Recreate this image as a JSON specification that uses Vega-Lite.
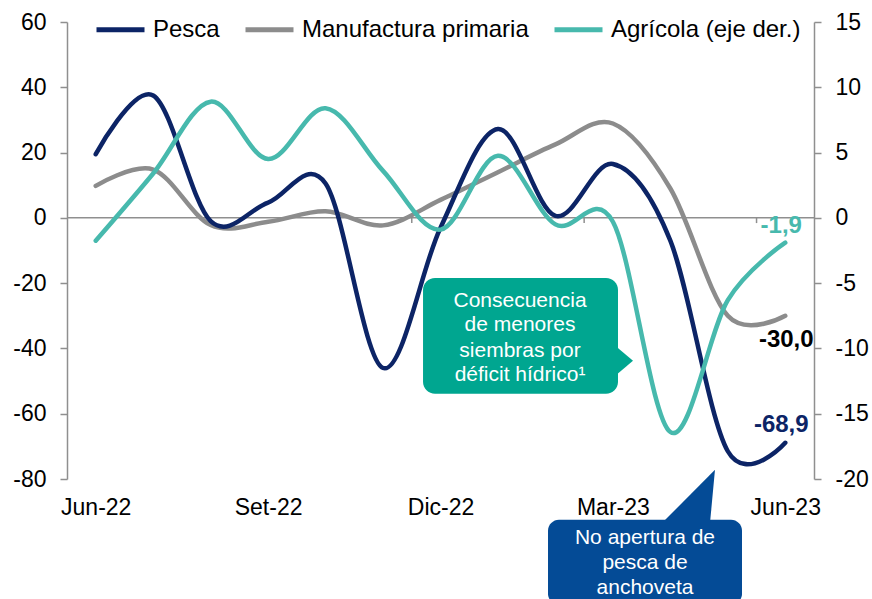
{
  "$schema": "https://vega.github.io/schema/vega-lite/v6.json",
  "width": 747,
  "height": 457,
  "autosize": "none",
  "padding": {"left": 67, "top": 22, "right": 58, "bottom": 120},
  "background": "white",
  "config": {
    "view": {"stroke": null},
    "font": "Liberation Sans",
    "axis": {"labelFont": "Liberation Sans", "labelColor": "#000000", "grid": false, "title": null},
    "legend": {"labelFont": "Liberation Sans"}
  },
  "datasets": {
    "izq": [
      {"serie": "Manufactura primaria", "mes": "Jun-22", "i": 0, "v": 9.8},
      {"serie": "Manufactura primaria", "mes": "Jul-22", "i": 1, "v": 14.8},
      {"serie": "Manufactura primaria", "mes": "Ago-22", "i": 2, "v": -2.2},
      {"serie": "Manufactura primaria", "mes": "Set-22", "i": 3, "v": -1.2},
      {"serie": "Manufactura primaria", "mes": "Oct-22", "i": 4, "v": 2.0},
      {"serie": "Manufactura primaria", "mes": "Nov-22", "i": 5, "v": -2.3},
      {"serie": "Manufactura primaria", "mes": "Dic-22", "i": 6, "v": 5.5},
      {"serie": "Manufactura primaria", "mes": "Ene-23", "i": 7, "v": 14.0},
      {"serie": "Manufactura primaria", "mes": "Feb-23", "i": 8, "v": 22.5},
      {"serie": "Manufactura primaria", "mes": "Mar-23", "i": 9, "v": 28.9},
      {"serie": "Manufactura primaria", "mes": "Abr-23", "i": 10, "v": 9.0},
      {"serie": "Manufactura primaria", "mes": "May-23", "i": 11, "v": -30.0},
      {"serie": "Manufactura primaria", "mes": "Jun-23", "i": 12, "v": -30.0},
      {"serie": "Pesca", "mes": "Jun-22", "i": 0, "v": 19.5},
      {"serie": "Pesca", "mes": "Jul-22", "i": 1, "v": 37.5},
      {"serie": "Pesca", "mes": "Ago-22", "i": 2, "v": -1.0},
      {"serie": "Pesca", "mes": "Set-22", "i": 3, "v": 4.7},
      {"serie": "Pesca", "mes": "Oct-22", "i": 4, "v": 10.5},
      {"serie": "Pesca", "mes": "Nov-22", "i": 5, "v": -46.0},
      {"serie": "Pesca", "mes": "Dic-22", "i": 6, "v": -3.0},
      {"serie": "Pesca", "mes": "Ene-23", "i": 7, "v": 27.2},
      {"serie": "Pesca", "mes": "Feb-23", "i": 8, "v": 0.6},
      {"serie": "Pesca", "mes": "Mar-23", "i": 9, "v": 16.5},
      {"serie": "Pesca", "mes": "Abr-23", "i": 10, "v": -7.0},
      {"serie": "Pesca", "mes": "May-23", "i": 11, "v": -71.5},
      {"serie": "Pesca", "mes": "Jun-23", "i": 12, "v": -68.9}
    ],
    "der": [
      {"serie": "Agrícola (eje der.)", "mes": "Jun-22", "i": 0, "v": -1.75},
      {"serie": "Agrícola (eje der.)", "mes": "Jul-22", "i": 1, "v": 3.4},
      {"serie": "Agrícola (eje der.)", "mes": "Ago-22", "i": 2, "v": 8.9},
      {"serie": "Agrícola (eje der.)", "mes": "Set-22", "i": 3, "v": 4.5},
      {"serie": "Agrícola (eje der.)", "mes": "Oct-22", "i": 4, "v": 8.4},
      {"serie": "Agrícola (eje der.)", "mes": "Nov-22", "i": 5, "v": 3.6},
      {"serie": "Agrícola (eje der.)", "mes": "Dic-22", "i": 6, "v": -0.9},
      {"serie": "Agrícola (eje der.)", "mes": "Ene-23", "i": 7, "v": 4.75},
      {"serie": "Agrícola (eje der.)", "mes": "Feb-23", "i": 8, "v": -0.5},
      {"serie": "Agrícola (eje der.)", "mes": "Mar-23", "i": 9, "v": -0.3},
      {"serie": "Agrícola (eje der.)", "mes": "Abr-23", "i": 10, "v": -16.4},
      {"serie": "Agrícola (eje der.)", "mes": "May-23", "i": 11, "v": -6.3},
      {"serie": "Agrícola (eje der.)", "mes": "Jun-23", "i": 12, "v": -1.9}
    ]
  },
  "layer": [
    {
      "layer": [
        {
          "data": {"name": "izq"},
          "mark": {"type": "line", "interpolate": "cardinal", "strokeWidth": 4.5, "strokeCap": "round", "strokeJoin": "round", "opacity": 0},
          "encoding": {
            "x": {
              "field": "i", "type": "quantitative",
              "scale": {"domain": [-0.5, 12.5], "nice": false, "zero": false},
              "axis": {
                "orient": "bottom", "values": [0, 3, 6, 9, 12], "domain": false, "ticks": false,
                "labelExpr": "['Jun-22','Jul-22','Ago-22','Set-22','Oct-22','Nov-22','Dic-22','Ene-23','Feb-23','Mar-23','Abr-23','May-23','Jun-23'][datum.value]",
                "labelFontSize": 23, "labelPadding": 17, "labelFlush": false, "labelOverlap": false
              }
            },
            "y": {
              "field": "v", "type": "quantitative",
              "scale": {"domain": [-80, 60], "nice": false, "zero": false},
              "axis": {
                "orient": "left", "values": [-80, -60, -40, -20, 0, 20, 40, 60],
                "domain": true, "domainColor": "#8f8f8f", "domainWidth": 1.5,
                "ticks": true, "tickColor": "#8f8f8f", "tickWidth": 1.5, "tickSize": 7,
                "labelFontSize": 23, "labelPadding": 14, "labelExpr": "datum.value + ''"
              }
            }
          }
        },
        {
          "data": {"values": [{"v": 0}]},
          "mark": {"type": "rule", "color": "#8f8f8f", "strokeWidth": 1.5},
          "encoding": {
            "y": {"field": "v", "type": "quantitative"}
          }
        },
        {
          "data": {"values": [{"i": 2.5}, {"i": 5.5}, {"i": 8.5}, {"i": 11.5}]},
          "mark": {"type": "rule", "color": "#8f8f8f", "strokeWidth": 1.5},
          "encoding": {
            "x": {"field": "i", "type": "quantitative"},
            "y": {"datum": 0, "type": "quantitative"},
            "y2": {"datum": -1.6}
          }
        },
        {
          "data": {"name": "izq"},
          "mark": {"type": "line", "interpolate": "cardinal", "strokeWidth": 4.5, "strokeCap": "round", "strokeJoin": "round"},
          "encoding": {
            "x": {"field": "i", "type": "quantitative"},
            "y": {"field": "v", "type": "quantitative"},
            "color": {
              "field": "serie", "type": "nominal",
              "scale": {"domain": ["Pesca", "Manufactura primaria", "Agrícola (eje der.)"], "range": ["#0c2466", "#8c8c8c", "#47b9ad"]},
              "legend": {
                "orient": "none", "legendX": 27, "legendY": -19, "direction": "horizontal",
                "title": null, "symbolType": "stroke", "symbolSize": 2304, "symbolStrokeWidth": 5,
                "labelFontSize": 24, "labelOffset": 6, "columnPadding": 15, "padding": 0,
                "labelLimit": 400, "labelColor": "#000000"
              }
            },
            "order": {"field": "serie", "sort": "ascending"}
          }
        },
        {
          "data": {"values": [{"x": 5.696, "x2": 9.089, "y": -18.4, "y2": -53.9}]},
          "mark": {"type": "rect", "color": "#00a690", "cornerRadius": 12},
          "encoding": {
            "x": {"field": "x", "type": "quantitative"},
            "x2": {"field": "x2"},
            "y": {"field": "y", "type": "quantitative"},
            "y2": {"field": "y2"}
          }
        },
        {
          "data": {"values": [{"i": 9.0, "y": -38.6, "y2": -49.0}, {"i": 9.35, "y": -43.8, "y2": -43.8}]},
          "mark": {"type": "area", "color": "#00a690", "orient": "vertical"},
          "encoding": {
            "x": {"field": "i", "type": "quantitative"},
            "y": {"field": "y", "type": "quantitative"},
            "y2": {"field": "y2"}
          }
        },
        {
          "data": {"values": [{"x": 7.871, "x2": 11.247, "y": -92.5, "y2": -118.5}]},
          "mark": {"type": "rect", "color": "#044b96", "cornerRadius": 11},
          "encoding": {
            "x": {"field": "x", "type": "quantitative"},
            "x2": {"field": "x2"},
            "y": {"field": "y", "type": "quantitative"},
            "y2": {"field": "y2"}
          }
        },
        {
          "data": {"values": [{"v": -93.5, "x": 9.855, "x2": 10.69}, {"v": -77.2, "x": 10.777, "x2": 10.777}]},
          "mark": {"type": "area", "color": "#044b96", "orient": "horizontal"},
          "encoding": {
            "y": {"field": "v", "type": "quantitative"},
            "x": {"field": "x", "type": "quantitative"},
            "x2": {"field": "x2"}
          }
        },
        {
          "data": {"values": [
            {"t": "Consecuencia", "x": 7.384, "y": -27.2},
            {"t": "de menores", "x": 7.384, "y": -34.8},
            {"t": "siembras por", "x": 7.384, "y": -42.5},
            {"t": "déficit hídrico¹", "x": 7.384, "y": -50.1},
            {"t": "No apertura de", "x": 9.559, "y": -100.0},
            {"t": "pesca de", "x": 9.559, "y": -107.6},
            {"t": "anchoveta", "x": 9.559, "y": -115.3}
          ]},
          "mark": {"type": "text", "color": "#ffffff", "fontSize": 21, "align": "center", "baseline": "alphabetic"},
          "encoding": {
            "x": {"field": "x", "type": "quantitative"},
            "y": {"field": "y", "type": "quantitative"},
            "text": {"field": "t"}
          }
        },
        {
          "data": {"values": [{"i": 12, "v": -30.0, "t": "-30,0"}]},
          "mark": {"type": "text", "color": "#000000", "fontSize": 24, "fontWeight": "bold", "align": "center", "baseline": "middle", "dx": 1, "dy": 24},
          "encoding": {
            "x": {"field": "i", "type": "quantitative"},
            "y": {"field": "v", "type": "quantitative"},
            "text": {"field": "t"}
          }
        },
        {
          "data": {"values": [{"i": 12, "v": -68.9, "t": "-68,9"}]},
          "mark": {"type": "text", "color": "#0c2466", "fontSize": 24, "fontWeight": "bold", "align": "center", "baseline": "middle", "dx": -4, "dy": -18},
          "encoding": {
            "x": {"field": "i", "type": "quantitative"},
            "y": {"field": "v", "type": "quantitative"},
            "text": {"field": "t"}
          }
        }
      ]
    },
    {
      "layer": [
        {
          "data": {"name": "der"},
          "mark": {"type": "line", "interpolate": "cardinal", "strokeWidth": 4.5, "strokeCap": "round", "strokeJoin": "round"},
          "encoding": {
            "x": {"field": "i", "type": "quantitative"},
            "y": {
              "field": "v", "type": "quantitative",
              "scale": {"domain": [-20, 15], "nice": false, "zero": false},
              "axis": {
                "orient": "right", "values": [-20, -15, -10, -5, 0, 5, 10, 15],
                "domain": true, "domainColor": "#8f8f8f", "domainWidth": 1.5,
                "ticks": true, "tickColor": "#8f8f8f", "tickWidth": 1.5, "tickSize": 7,
                "labelFontSize": 23, "labelPadding": 14, "labelExpr": "datum.value + ''"
              }
            },
            "color": {"field": "serie", "type": "nominal"}
          }
        },
        {
          "data": {"values": [{"i": 12, "v": -1.9, "t": "-1,9"}]},
          "mark": {"type": "text", "color": "#47b9ad", "fontSize": 24, "fontWeight": "bold", "align": "center", "baseline": "middle", "dx": -4, "dy": -17},
          "encoding": {
            "x": {"field": "i", "type": "quantitative"},
            "y": {"field": "v", "type": "quantitative"},
            "text": {"field": "t"}
          }
        }
      ]
    }
  ],
  "resolve": {"scale": {"y": "independent"}}
}
